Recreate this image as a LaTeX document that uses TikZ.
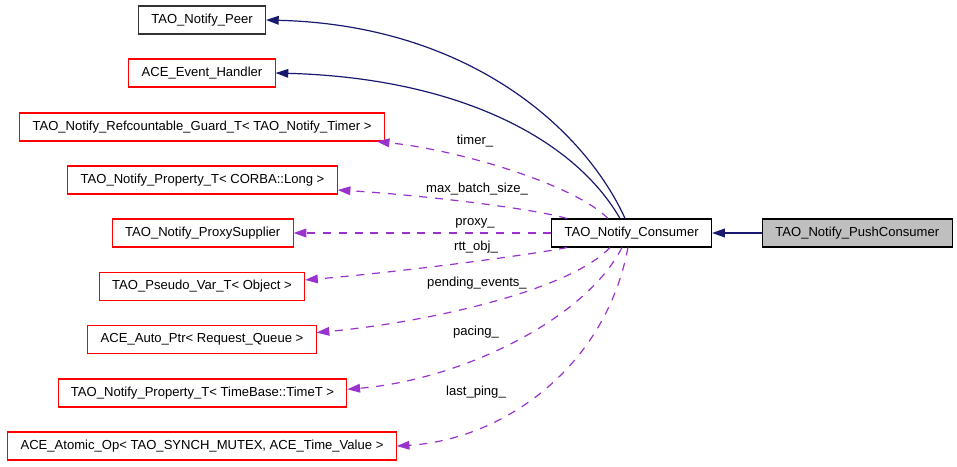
\documentclass[tikz,border=0pt]{standalone}
\usepackage{fontspec}
\setmainfont{Liberation Sans}
\usetikzlibrary{arrows.meta}

\definecolor{inhblue}{HTML}{191970}
\definecolor{usepurple}{HTML}{9A32CD}
\definecolor{boxgray}{HTML}{BFBFBF}

\tikzset{
  cls/.style={draw, line width=0.8pt, minimum height=21pt, inner xsep=9.6pt, inner ysep=0pt, font=\fontsize{9.8}{11}\selectfont},
  undoc/.style={cls, draw=red},
  inherit/.style={-{Triangle[length=9.5pt,width=6.5pt]}, color=inhblue, line width=0.9pt},
  usage/.style={-{Triangle[length=9.5pt,width=6.5pt]}, color=usepurple, line width=0.9pt, dash pattern=on 6pt off 5.8pt},
  lbl/.style={font=\fontsize{9.8}{11}\selectfont, inner sep=0pt}
}

\begin{document}
\begin{tikzpicture}[x=0.75pt, y=-0.75pt]
    \useasboundingbox (0,0) rectangle (957,467);
    % classes on the left
    \node (peer) at (202,20) [cls, draw=black!80] {TAO\_Notify\_Peer};
    \node (evhandler) at (202,73) [undoc] {ACE\_Event\_Handler};
    \node (guard) at (202,127) [undoc] {TAO\_Notify\_Refcountable\_Guard\_T< TAO\_Notify\_Timer >};
    \node (corbalong) at (202.5,180) [undoc] {TAO\_Notify\_Property\_T< CORBA::Long >};
    \node (proxysup) at (202.7,233) [undoc] {TAO\_Notify\_ProxySupplier};
    \node (pseudovar) at (202,286.5) [undoc] {TAO\_Pseudo\_Var\_T< Object >};
    \node (autoptr) at (202,339.5) [undoc] {ACE\_Auto\_Ptr< Request\_Queue >};
    \node (timebase) at (202.5,393) [undoc] {TAO\_Notify\_Property\_T< TimeBase::TimeT >};
    \node (atomicop) at (202,446) [undoc] {ACE\_Atomic\_Op< TAO\_SYNCH\_MUTEX, ACE\_Time\_Value >};
    % the consumer classes
    \node (consumer) at (631.7,233) [cls] {TAO\_Notify\_Consumer};
    \node (pushcons) at (857.3,233) [cls, fill=boxgray] {TAO\_Notify\_PushConsumer};

    % base classes
    \draw [inherit] (pushcons) -- (consumer);
    \draw [inherit] ([xshift=-5pt]consumer.north) .. controls (585,130) and (470,25) .. (peer.east);
    \draw [inherit] ([xshift=-8.8pt]consumer.north) .. controls (575,140) and (460,78) .. (evhandler.east);

    % members
    \draw [usage] ([xshift=-17.8pt]consumer.north) .. controls (575,185) and (460,150) .. ([xshift=-6pt]guard.south east);
    \draw [usage] ([xshift=-48.5pt]consumer.north) .. controls (530,208) and (420,195) .. ([yshift=-7.5pt]corbalong.east);
    \draw [usage] (consumer) -- (proxysup);
    \draw [usage] ([xshift=-48.5pt]consumer.south) .. controls (530,255) and (400,272) .. ([yshift=4.9pt]pseudovar.east);
    \draw [usage] ([xshift=-16.3pt]consumer.south) .. controls (570,290) and (430,322) .. ([yshift=5.2pt]autoptr.east);
    \draw [usage] ([xshift=-7.3pt]consumer.south) .. controls (585,320) and (460,380) .. ([yshift=2.8pt]timebase.east);
    \draw [usage] ([xshift=-2.8pt]consumer.south) .. controls (605,370) and (500,440) .. (atomicop.east);

    \node (ltimer) at (475,141) [lbl] {timer\_};
    \node (lbatch) at (477,189) [lbl] {max\_batch\_size\_};
    \node (lproxy) at (475,223) [lbl] {proxy\_};
    \node (lrtt) at (476,247) [lbl] {rtt\_obj\_};
    \node (lpending) at (477,283) [lbl] {pending\_events\_};
    \node (lpacing) at (476,332) [lbl] {pacing\_};
    \node (lping) at (476,392) [lbl] {last\_ping\_};
\end{tikzpicture}
\end{document}
